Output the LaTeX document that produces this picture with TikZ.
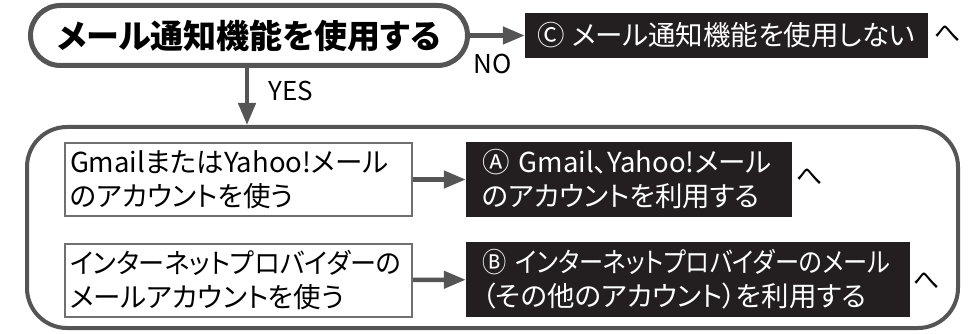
\documentclass[tikz,border=0pt]{standalone}
\usepackage{fontspec}
\setmainfont{Noto Sans CJK JP}[RawFeature=+palt]
\newfontfamily\kananarrow{Noto Sans CJK JP}[RawFeature=+palt, FakeStretch=0.88]
\newfontfamily\kanaslim{Noto Sans CJK JP}[RawFeature=+palt, FakeStretch=0.95]
\usetikzlibrary{arrows.meta}

\definecolor{framegray}{HTML}{555555}
\definecolor{boxgray}{HTML}{707070}
\definecolor{inkblack}{HTML}{231F20}

\begin{document}
\begin{tikzpicture}[x=1pt,y=-1pt]
		\tikzstyle{every node}=[inner sep=0pt, font=\fontsize{27.5}{34}\selectfont]
		\tikzstyle{choice}=[draw=boxgray, line width=2pt, fill=white, align=left, text width=337pt, minimum width=347pt, minimum height=73pt]
		\tikzstyle{result}=[fill=inkblack, text=white, align=left, minimum height=75pt]
		\tikzstyle{go}=[draw=framegray, fill=framegray, line width=4.5pt, -{Triangle[length=22pt,width=17pt]}]
		\tikzstyle{yesno}=[font=\fontsize{26}{30}\selectfont]
		\useasboundingbox (0,0) rectangle (975,334);
		% question and the NO branch
		\node (Ask) [draw=framegray, line width=5pt, rounded corners=30pt, minimum width=437pt, minimum height=60pt,
			font=\fontsize{33}{38}\bfseries\selectfont] at (249,35.5) {メール通知機能を使用する};
		\node (NoUse) [result, minimum width=403pt, minimum height=45pt] at (726.5,35.5) {Ⓒ メール通知機能を使用しない};
		\node (ToC) [font=\fontsize{26}{30}\selectfont] at (948,34) {へ};
		\draw[go] (Ask.east) -- node[yesno, pos=0.41, below=16pt] {NO} (NoUse.west);
		% YES branch
		\node (Frame) [draw=framegray, line width=4pt, rounded corners=40pt, minimum width=931pt, minimum height=201pt] at (492.5,227.5) {};
		\draw[go] (Ask.south -| 247,0) -- node[yesno, pos=0.4, right=19pt] {YES} (Frame.north -| 247,0);
		% account kinds
		\node (Gmail) [choice] at (238.5,179.5) {GmailまたはYahoo!メール\\のアカウントを使う};
		\node (Isp) [choice] at (238.5,280) {{\kanaslim インターネットプロバイダーの}\\メールアカウントを使う};
		\node (UseA) [result, text width=294pt, minimum width=326pt] at (629,179.5) {Ⓐ Gmail、Yahoo!メール\\のアカウントを利用する};
		\node (UseB) [result, text width=412pt, minimum width=444pt] at (688,279.5) {{\kananarrow Ⓑ インターネットプロバイダーのメール}\\（その他のアカウント）を利用する};
		\node (ToA) [font=\fontsize{26}{30}\selectfont] at (810,177) {へ};
		\node (ToB) [font=\fontsize{26}{30}\selectfont] at (927,281) {へ};
		\draw[go] (Gmail) -- (UseA);
		\draw[go] (Isp) -- (UseB);
\end{tikzpicture}
\end{document}
